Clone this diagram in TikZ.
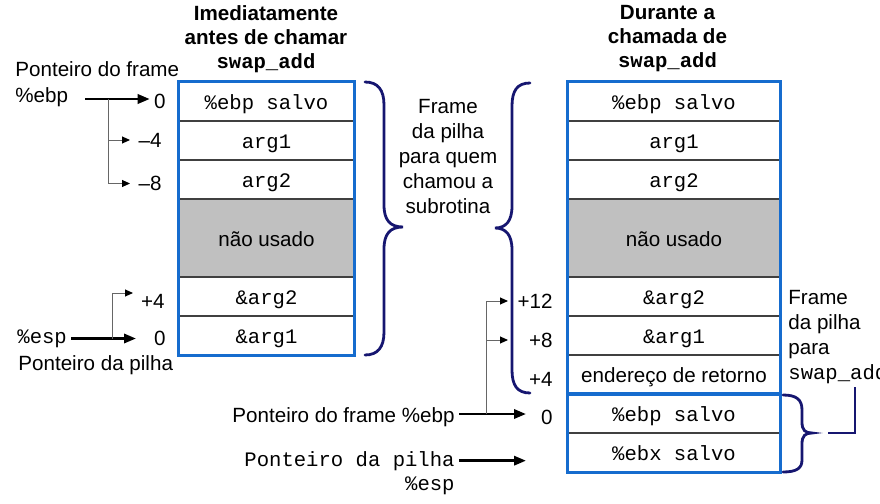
\documentclass[tikz,border=0pt]{standalone}
\usepackage{fontspec}
\setmainfont{Liberation Sans}[Scale=1.03]
\setmonofont{Liberation Mono}[Scale=1.03]
\usetikzlibrary{arrows.meta}

\definecolor{stackblue}{RGB}{22,108,206}
\definecolor{bracenavy}{RGB}{22,22,112}
\definecolor{unusedgray}{RGB}{192,192,192}

\tikzset{
  cell/.style={draw=black!75, line width=0.7pt, minimum height=19.5pt, inner sep=0pt,
    text height=8pt, text depth=0pt, font=\ttfamily},
  lcell/.style={cell, minimum width=87.5pt},
  rcell/.style={cell, minimum width=106pt},
  unused/.style={fill=unusedgray, minimum height=39pt, font=\rmfamily},
  lbl/.style={inner sep=2pt},
  offs/.style={inner sep=2pt, anchor=east},
  title/.style={font=\bfseries, align=center},
  frame/.style={draw=stackblue, line width=1.6pt},
  brace/.style={draw=bracenavy, line width=1.4pt, line cap=round},
  bracelink/.style={draw=bracenavy, line width=1pt},
  mainarrow/.style={-{Triangle[length=6pt,width=4.6pt]}, line width=1.3pt},
  branch/.style={draw=black!60, line width=0.5pt, -{Triangle[length=4pt,width=3.5pt,color=black]}}
}

\begin{document}
\begin{tikzpicture}[x=0.5pt, y=-0.5pt]
    \useasboundingbox (0,0) rectangle (880,504);

    % Titles
    \node[title] (tL) at (266,39) {Imediatamente\\antes de chamar\\\texttt{swap\_add}};
    \node[title] (tR) at (667.5,39) {Durante a\\chamada de\\\texttt{swap\_add}};

    % Left stack
    \node[lcell] (a0) at (266.5,101.5) {\%ebp salvo};
    \node[lcell] (a1) at (266.5,140.5) {arg1};
    \node[lcell] (a2) at (266.5,179.5) {arg2};
    \node[lcell, unused] (a3) at (266.5,238) {não usado};
    \node[lcell] (a4) at (266.5,296.5) {\&arg2};
    \node[lcell] (a5) at (266.5,335.5) {\&arg1};
    \draw[frame] (a0.north west) rectangle (a5.south east);

    % Right stack
    \node[rcell] (b0) at (674,101.5) {\%ebp salvo};
    \node[rcell] (b1) at (674,140.5) {arg1};
    \node[rcell] (b2) at (674,179.5) {arg2};
    \node[rcell, unused] (b3) at (674,238) {não usado};
    \node[rcell] (b4) at (674,296.5) {\&arg2};
    \node[rcell] (b5) at (674,335.5) {\&arg1};
    \node[rcell, font=\rmfamily] (b6) at (674,374.5) {endereço de retorno};
    \node[rcell] (b7) at (674,413.5) {\%ebp salvo};
    \node[rcell] (b8) at (674,452.5) {\%ebx salvo};
    \draw[frame] (b0.north west) rectangle (b6.south east);
    \draw[frame] (b7.north west) rectangle (b8.south east);

    % Left pointers: frame pointer
    \node[lbl, anchor=base west] (fpL) at (11,76) {Ponteiro do frame};
    \node[lbl, anchor=base west] (ebpL) at (11,102) {\%ebp};
    \node[offs] (o0) at (170,101) {0};
    \node[offs] (om4) at (166,140) {\textendash4};
    \node[offs] (om8) at (166,183.5) {\textendash8};
    \coordinate (ebpS) at (85,99);
    \coordinate (ebpJ) at (108,99);
    \coordinate (brL) at (130,0);
    \draw[mainarrow] (ebpS) -- (ebpJ -| o0.west);
    \draw[branch] (ebpJ) |- (om4.west -| brL);
    \draw[branch] (ebpJ) |- (om8.west -| brL);

    % Left pointers: stack pointer
    \node[offs] (op4) at (169,301.5) {+4};
    \node[offs] (oz) at (170,338.5) {0};
    \node[lbl, anchor=base west, font=\ttfamily] (espL) at (13,343) {\%esp};
    \node[lbl, anchor=base west] (spL) at (14,370) {Ponteiro da pilha};
    \coordinate (espJ) at (112,338.5);
    \coordinate (p4tip) at (133,293);
    \coordinate (tipL) at (136,0);
    \draw[mainarrow] (espL.east |- oz.west) -- (oz.west -| tipL);
    \draw[branch] (espJ) |- (p4tip);

    % Right pointers
    \node[offs] (oR12) at (557,301) {+12};
    \node[offs] (oR8) at (557,340) {+8};
    \node[offs] (oR4) at (557,379) {+4};
    \node[offs] (oR0) at (557,417) {0};
    \node[lbl, anchor=base east] (fpR) at (459,422) {Ponteiro do frame \%ebp};
    \node[lbl, anchor=base east, font=\ttfamily] (spR) at (459,466) {Ponteiro da pilha};
    \node[lbl, anchor=base east, font=\ttfamily] (espR) at (459,490) {\%esp};
    \coordinate (ebpJR) at (486,414);
    \coordinate (brR) at (508,0);
    \coordinate (tipR) at (526,0);
    \draw[mainarrow] (fpR.east |- ebpJR) -- (ebpJR -| tipR);
    \draw[mainarrow] (spR.east) -- (spR.east -| tipR);
    \draw[branch] (ebpJR) |- (oR12.west -| brR);
    \draw[branch] (ebpJR) |- (oR8.west -| brR);

    % Frame of the caller
    \draw[brace] (365,82) .. controls (378,82) and (384,90) .. (384,105) -- (384,205)
        .. controls (384,220) and (390,227) .. (403,227)
        .. controls (390,227) and (384,234) .. (384,249) -- (384,332)
        .. controls (384,347) and (378,355) .. (365,355);
    \draw[brace] (530,83) .. controls (517,83) and (512,91) .. (512,106) -- (512,206)
        .. controls (512,221) and (506,228) .. (495,228)
        .. controls (506,228) and (512,235) .. (512,250) -- (512,370)
        .. controls (512,385) and (517,393) .. (530,393);
    \node[lbl, align=center] (fcaller) at (448,156.5)
        {Frame\\[0.5pt]da pilha\\[0.5pt]para quem\\[0.5pt]chamou a\\[0.5pt]subrotina};

    % Frame of swap_add
    \draw[brace] (783,395) .. controls (797,395) and (802,400) .. (802,410) -- (802,422)
        .. controls (802,430) and (805,433) .. (812,433)
        .. controls (805,433) and (802,436) .. (802,444) -- (802,460)
        .. controls (802,468) and (797,472) .. (783,472);
    \node[lbl, align=left, anchor=west] (fswap) at (784,337)
        {Frame\\[0.5pt]da pilha\\[0.5pt]para\\[0.5pt]\texttt{swap\_add}};
    \coordinate (bTip) at (828,433);
    \coordinate (fswFoot) at (855,387);
    \draw[bracelink] (bTip) -| (fswFoot);
\end{tikzpicture}
\end{document}
